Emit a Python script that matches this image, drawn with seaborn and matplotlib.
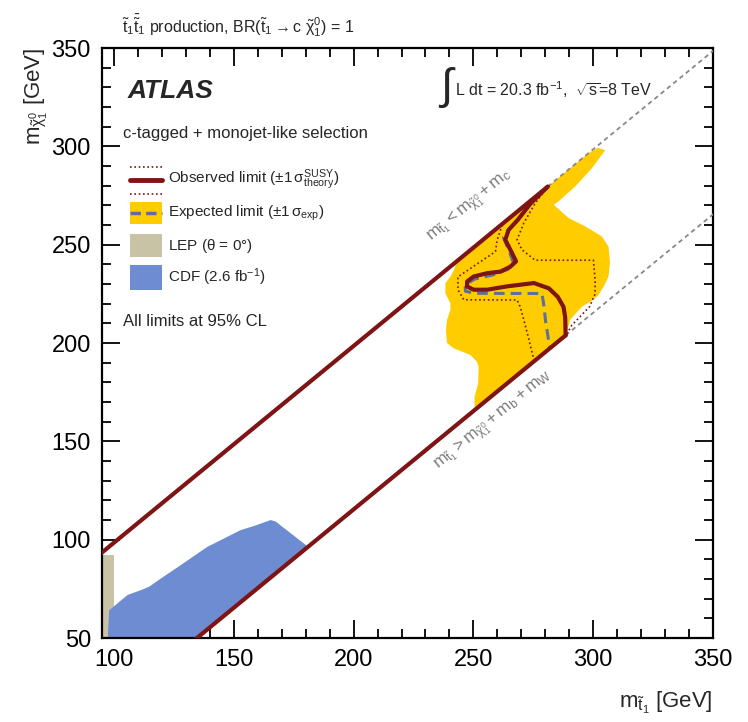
import matplotlib
matplotlib.use("Agg")
import matplotlib.pyplot as plt
from matplotlib.patches import Rectangle
from matplotlib.ticker import MultipleLocator
import seaborn as sns

# ---------------------------------------------------------------------------
# Limits in the (m_stop, m_LSP) plane, masses in GeV
# ---------------------------------------------------------------------------
# expected limit +-1 sigma_exp band (closed polygon)
band_mstop = [243.0, 298.0, 302.0, 305.0, 299.4, 292.5, 285.5, 283.5, 289.7, 296.7,
              303.6, 306.4, 307.0, 306.4, 304.5, 302.0, 299.5, 295.3, 290.5, 288.5,
              250.5, 250.5, 252.0, 252.2, 251.5, 248.8, 241.8, 239.0, 238.5, 239.0,
              240.4, 240.4, 238.3, 238.3, 240.4, 242.0]
band_mlsp = [241.5, 296.5, 299.3, 298.0, 288.8, 279.6, 272.0, 270.3, 263.6, 259.3,
             254.2, 249.0, 241.0, 233.8, 229.0, 224.0, 221.5, 218.5, 212.0, 203.9,
             165.9, 172.8, 179.5, 187.9, 190.5, 193.9, 197.3, 200.0, 206.5, 211.8,
             216.9, 220.2, 225.3, 230.4, 233.7, 237.5]

# expected limit
exp_mstop = [281.0, 273.5, 268.0, 263.5, 262.5, 265.0, 266.8, 264.5, 258.0, 250.5,
             246.5, 246.7, 250.5, 265.0, 278.6, 279.3, 280.2, 281.5, 282.0]
exp_mlsp = [279.5, 270.5, 262.0, 256.0, 253.8, 246.5, 240.5, 237.5, 234.6, 232.5,
            229.5, 226.3, 225.3, 225.2, 225.2, 220.1, 210.5, 200.5, 197.4]

# observed limit
obs_mstop = [281.0, 273.9, 268.5, 264.7, 263.3, 266.1, 267.8, 265.4, 261.3, 255.7,
             250.1, 247.4, 247.3, 250.1, 255.7, 264.0, 275.3, 281.5, 285.2, 287.6,
             288.3, 288.5]
obs_mlsp = [279.5, 271.0, 262.6, 257.5, 252.5, 245.8, 241.5, 238.8, 236.3, 235.5,
            233.8, 231.3, 228.8, 227.1, 227.1, 228.8, 230.5, 227.8, 223.5, 218.4,
            213.2, 203.9]

# observed limit, +1 sigma theory
obs_up_mstop = [281.0, 275.8, 271.0, 268.2, 270.3, 275.8, 300.1, 300.8, 300.8, 298.5,
                291.1, 288.8]
obs_up_mlsp = [279.5, 271.1, 260.9, 252.5, 247.4, 242.1, 242.1, 232.0, 225.0, 218.5,
               209.1, 204.2]

# observed limit, -1 sigma theory
obs_dn_mstop = [280.0, 272.0, 266.0, 262.0, 259.9, 259.2, 250.8, 243.5, 243.6, 246.0,
                268.2, 269.6, 272.5, 275.4]
obs_dn_mlsp = [278.5, 270.5, 264.5, 260.0, 252.3, 246.5, 239.6, 233.6, 227.0, 222.0,
               221.9, 218.3, 205.0, 190.8]

# LEP and CDF exclusions
lep_mstop = [90.0, 99.8, 99.8, 90.0]
lep_mlsp = [50.0, 50.0, 92.0, 92.0]
cdf_mstop = [97.4, 98.0, 102.2, 105.7, 111.3, 114.7, 119.6, 128.0, 139.0, 144.6,
             152.9, 158.5, 165.4, 167.5, 181.0, 134.6]
cdf_mlsp = [50.0, 64.1, 68.4, 71.9, 74.4, 76.1, 80.3, 87.2, 96.4, 99.8,
            104.9, 107.0, 110.0, 109.2, 96.4, 50.0]

# kinematic boundaries: m_LSP = m_stop - m_c and m_LSP = m_stop - m_b - m_W
kin_c_solid_mstop = [90.0, 281.0]
kin_c_solid_mlsp = [88.5, 279.5]
kin_c_dash_mstop = [281.0, 352.0]
kin_c_dash_mlsp = [279.5, 350.5]
kin_bw_solid_mstop = [130.0, 288.5]
kin_bw_solid_mlsp = [45.4, 203.9]
kin_bw_dash_mstop = [288.5, 352.0]
kin_bw_dash_mlsp = [203.9, 267.4]

x_ticks = [100, 150, 200, 250, 300, 350]
y_ticks = [50, 100, 150, 200, 250, 300, 350]

# ---------------------------------------------------------------------------
sns.set_theme(style="ticks")
FAM = "Liberation Sans"
plt.rcParams["font.family"] = [FAM, "DejaVu Sans"]
plt.rcParams["mathtext.fontset"] = "custom"
plt.rcParams["mathtext.rm"] = FAM
plt.rcParams["mathtext.it"] = FAM
plt.rcParams["mathtext.bf"] = FAM + ":bold"
plt.rcParams["mathtext.sf"] = FAM

YELLOW = "#FFCC00"
DARKRED = "#7E1414"
EXPCOL = "#5F6F9A"
LEPCOL = "#C9C3A6"
CDFCOL = "#6E8CD2"
GREY = "#888888"
LABGREY = "#7a7a7a"

fig = plt.figure(figsize=(7.48, 7.22), dpi=100)
ax = fig.add_axes([0.1364, 0.1163, 0.8168, 0.8172])

ax.fill(band_mstop, band_mlsp, color=YELLOW, lw=0, zorder=1)
ax.fill(lep_mstop, lep_mlsp, color=LEPCOL, lw=0, zorder=1)
ax.fill(cdf_mstop, cdf_mlsp, color=CDFCOL, lw=0, zorder=2)

line_kw = dict(ax=ax, sort=False, estimator=None, legend=False)
sns.lineplot(x=kin_c_dash_mstop, y=kin_c_dash_mlsp, color=GREY, lw=1.3,
             linestyle=(0, (2.5, 2)), zorder=3, **line_kw)
sns.lineplot(x=kin_bw_dash_mstop, y=kin_bw_dash_mlsp, color=GREY, lw=1.3,
             linestyle=(0, (2.5, 2)), zorder=3, **line_kw)
sns.lineplot(x=kin_c_solid_mstop, y=kin_c_solid_mlsp, color=DARKRED, lw=3,
             zorder=5, **line_kw)
sns.lineplot(x=kin_bw_solid_mstop, y=kin_bw_solid_mlsp, color=DARKRED, lw=3,
             zorder=5, **line_kw)
sns.lineplot(x=obs_up_mstop, y=obs_up_mlsp, color=DARKRED, lw=1.2,
             linestyle=(0, (1, 1.6)), zorder=4, **line_kw)
sns.lineplot(x=obs_dn_mstop, y=obs_dn_mlsp, color=DARKRED, lw=1.2,
             linestyle=(0, (1, 1.6)), zorder=4, **line_kw)
sns.lineplot(x=exp_mstop, y=exp_mlsp, color=EXPCOL, lw=2.2,
             linestyle=(0, (3.5, 2)), zorder=4, **line_kw)
sns.lineplot(x=obs_mstop, y=obs_mlsp, color=DARKRED, lw=3,
             zorder=6, **line_kw)

# labels along the kinematic boundaries
ax.text(248.5, 269.5, r"$m_{\tilde{t}_1} < m_{\tilde{\chi}^0_1} + m_c$", rotation=45,
        transform_rotates_text=True, rotation_mode="anchor", ha="center", va="center",
        fontsize=12.5, color=LABGREY, zorder=7)
ax.text(258.5, 160.5, r"$m_{\tilde{t}_1} > m_{\tilde{\chi}^0_1} + m_b + m_W$", rotation=45,
        transform_rotates_text=True, rotation_mode="anchor", ha="center", va="center",
        fontsize=12.5, color=LABGREY, zorder=7)

ax.set_xlim(95, 350)
ax.set_ylim(50, 350)
ax.set_xticks(x_ticks)
ax.set_yticks(y_ticks)
ax.xaxis.set_minor_locator(MultipleLocator(10))
ax.yaxis.set_minor_locator(MultipleLocator(10))
ax.tick_params(which="both", direction="in", top=True, right=True, colors="black",
               width=1.3)
ax.tick_params(which="major", length=13, labelsize=17, pad=8)
ax.tick_params(which="minor", length=6.5)
for s in ax.spines.values():
    s.set_linewidth(1.6)
    s.set_color("black")

ax.set_xlabel(r"$m_{\tilde{t}_1}$ [GeV]", fontsize=16, loc="right")
ax.xaxis.set_label_coords(1.0, -0.088)
ax.set_ylabel(r"$m_{\tilde{\chi}^0_1}$ [GeV]", fontsize=16, loc="top")
ax.yaxis.set_label_coords(-0.085, 1.0)

T = ax.transAxes
ax.text(0.041, 0.927, "ATLAS", transform=T, fontsize=19, fontweight="bold",
        fontstyle="italic", va="center", ha="left")
ax.text(0.034, 0.855, "c-tagged + monojet-like selection", transform=T, fontsize=12,
        va="center", ha="left")

# legend
sx0, sx1 = 0.046, 0.098
ax.plot([sx0, sx1], [0.776, 0.776], transform=T, color=DARKRED, lw=3.5, clip_on=False)
ax.plot([sx0, sx1], [0.798, 0.798], transform=T, color=DARKRED, lw=1.2,
        linestyle=(0, (1, 1.6)), clip_on=False)
ax.plot([sx0, sx1], [0.753, 0.753], transform=T, color=DARKRED, lw=1.2,
        linestyle=(0, (1, 1.6)), clip_on=False)
ax.add_patch(Rectangle((sx0, 0.701), sx1 - sx0, 0.038, transform=T, color=YELLOW, lw=0))
ax.plot([sx0, sx1], [0.720, 0.720], transform=T, color=EXPCOL, lw=2.5,
        linestyle=(0, (3, 1.5)), clip_on=False)
ax.add_patch(Rectangle((sx0, 0.646), sx1 - sx0, 0.039, transform=T, color=LEPCOL, lw=0))
ax.add_patch(Rectangle((sx0, 0.590), sx1 - sx0, 0.042, transform=T, color=CDFCOL, lw=0))

tx = 0.108
leg_fs = 11
ax.text(tx, 0.776, r"Observed limit ($\pm1\,\sigma^{\mathrm{SUSY}}_{\mathrm{theory}}$)",
        transform=T, fontsize=leg_fs, va="center", ha="left")
ax.text(tx, 0.720, r"Expected limit ($\pm1\,\sigma_{\mathrm{exp}}$)",
        transform=T, fontsize=leg_fs, va="center", ha="left")
ax.text(tx, 0.665, r"LEP ($\theta$ = 0°)", transform=T, fontsize=leg_fs,
        va="center", ha="left")
ax.text(tx, 0.611, r"CDF (2.6 fb$^{-1}$)", transform=T, fontsize=leg_fs,
        va="center", ha="left")
ax.text(0.034, 0.536, "All limits at 95% CL", transform=T, fontsize=12,
        va="center", ha="left")

# luminosity and energy
ax.text(0.550, 0.932, r"$\int$", transform=T, fontsize=32, va="center", ha="left")
ax.text(0.578, 0.930, r"L dt = 20.3 fb$^{-1}$,  $\sqrt{s}$=8 TeV", transform=T,
        fontsize=11.5, va="center", ha="left")

fig.text(0.163, 0.965,
         r"$\tilde{t}_1\bar{\tilde{t}}_1$ production, BR($\tilde{t}_1 \rightarrow c\ \tilde{\chi}^0_1$) = 1",
         fontsize=11.5, va="center", ha="left")

fig.savefig("out.png", dpi=100, facecolor="white")
